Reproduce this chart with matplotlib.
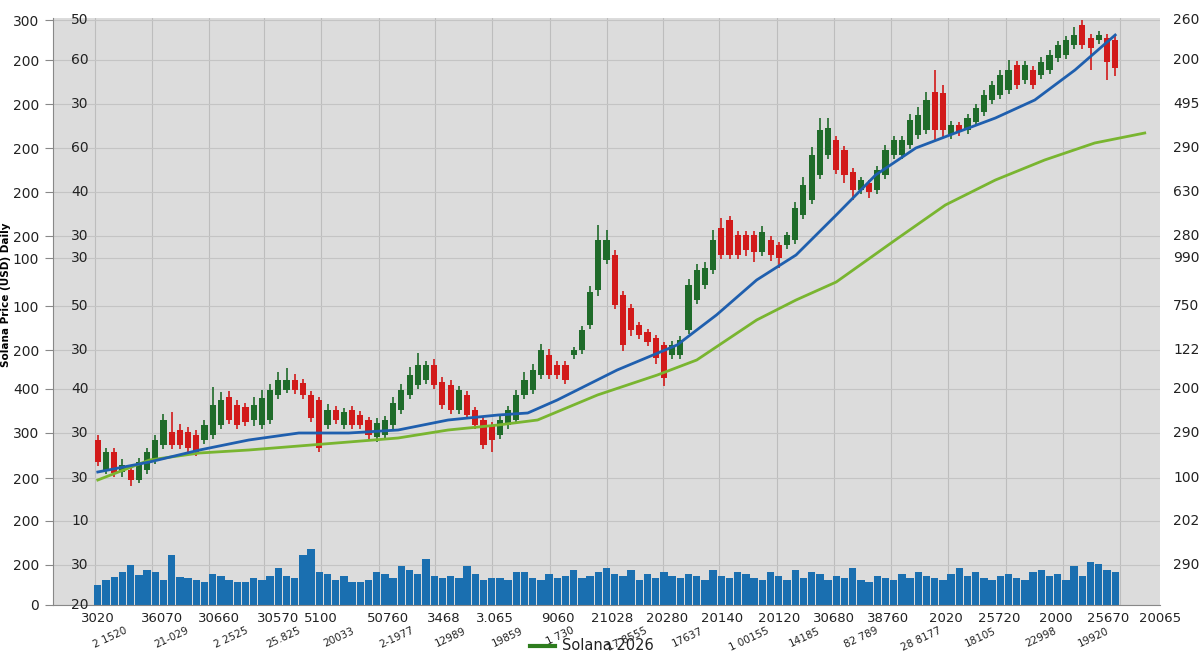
import matplotlib
matplotlib.use("Agg")
import matplotlib.pyplot as plt
import numpy as np

opens = [160,130,148,128,130,120,130,140,155,168,170,168,165,160,165,175,203,195,193,180,175,180,205,210,220,217,205,200,175,190,
         175,190,185,180,163,165,175,190,205,215,220,235,218,215,190,205,190,180,175,165,175,180,205,210,225,245,235,235,245,250,
         275,310,340,345,305,292,275,268,262,255,245,245,270,300,315,330,372,380,365,365,365,348,360,355,355,360,385,400,425,445,
         460,450,428,410,417,410,425,445,445,455,465,470,508,507,465,475,470,478,488,500,505,510,535,520,530,525,530,542,545,555,
         575,562,560,562,560]
closes = [138,148,127,135,120,138,148,160,180,155,155,152,148,175,195,200,180,175,178,195,202,210,220,220,210,205,182,152,190,180,
          188,175,175,165,177,180,197,210,225,235,235,215,195,190,210,185,175,155,160,180,190,205,220,230,250,225,225,220,250,270,
          308,360,360,295,255,270,265,258,242,222,255,260,315,330,332,360,345,345,345,350,348,368,345,342,365,392,415,445,470,472,
          430,425,410,420,408,430,450,460,460,480,485,500,470,470,475,468,482,492,505,515,525,530,515,535,515,538,545,555,560,565,
          555,552,565,538,532]
wick_up = [5,4,4,6,3,4,4,5,6,20,6,5,5,5,18,8,6,5,4,8,8,6,8,12,6,4,4,3,6,4,4,4,4,3,5,4,6,6,8,12,4,6,5,5,4,4,3,3,3,4,4,5,8,6,6,6,4,4,3,4,
           6,15,10,5,4,4,3,3,3,3,4,4,6,6,6,10,10,4,4,4,4,6,4,3,3,6,8,8,12,10,4,4,4,3,3,4,5,4,4,6,8,8,22,8,4,3,4,4,5,4,5,10,4,4,4,5,5,4,4,8,
           5,4,4,4,4]
wick_dn = [4,4,4,5,6,3,4,4,4,4,4,6,4,4,4,4,4,4,4,6,4,4,4,3,4,4,4,4,4,4,4,4,4,4,5,4,4,4,4,4,4,4,4,4,4,4,4,4,12,4,4,4,4,4,4,4,4,4,4,4,
           4,6,4,4,6,6,4,4,6,8,4,4,4,4,4,4,4,4,4,6,10,4,6,10,4,4,4,4,4,4,4,8,10,4,6,4,4,4,4,4,4,4,10,8,4,4,4,4,4,4,4,4,4,4,4,4,4,4,4,4,
           4,22,4,18,8]
volume = [20,25,28,33,40,30,35,33,25,50,28,27,25,23,31,29,25,23,23,27,25,29,37,29,27,50,56,33,31,25,
          29,23,23,25,33,31,27,39,35,31,46,29,27,29,27,39,31,25,27,27,25,33,33,27,25,31,27,29,35,27,
          29,33,37,31,29,35,25,31,27,33,29,27,31,29,25,35,29,27,33,31,27,25,33,29,25,35,27,33,31,25,
          29,27,37,25,23,29,27,25,31,27,33,29,27,25,31,37,29,33,27,25,29,31,27,25,33,35,29,31,25,39,
          29,43,41,35,33]

blue_x = [0,6.3,12.4,18.4,24.5,30.6,36.6,42.7,48.8,52.4,56,63.3,70.6,75.4,80.3,85.1,90,94.8,99.7,104.5,109.4,114.2,119.1,124]
blue_y = [128,138,150,160,167,167,170,180,185,187,200,230,255,285,320,345,385,425,452,467,482,500,530,565]
green_x = [0,6.3,12.4,18.4,24.5,30.6,36.6,42.7,48.8,53.6,60.9,68.2,73,80.3,85.1,90,97.2,103.3,109.4,115.4,121.5,127.6]
green_y = [120,140,147,150,154,158,162,170,175,180,205,225,240,280,300,318,360,395,420,440,457,467]

left_labels = ["300","200","200","200","200","200","100","100","200","400","300","200","200","200","0"]
inner_labels = ["50","60","30","60","40","30","30","50","30","40","30","30","10","30","20"]
right_labels = ["260","200","495","290","630","280","990","750","122","200","290","100","202","290",""]
label_pos = [580,540,496,452,408,364,342,294,250,211,167,122,79,35,-5]

xlab1 = ["3020","36070","30660","30570","5100","50760","3468","3.065","9060","21028","20280",
         "20140","20120","30680","38760","2020","25720","2000","25670","20065"]
xlab1_px = [98,163,220,279,322,390,446,497,560,615,670,725,782,838,892,950,1003,1060,1113,1165]
xlab2 = ["2 1520","21-029","2 2525","25.825","20033","2-1977","12989","19859","1 730","17 8555",
         "17637","1 00155","14185","82 789","28 8177","18105","22998","19920"]
xlab2_px = [110,172,232,285,340,398,452,510,562,630,690,752,808,865,925,985,1045,1098]

step = 1022/124
def px2i(p): return (p-98)/step

fig = plt.figure(figsize=(12,6.54), dpi=100)
ax = fig.add_axes([53/1200, 49/654, 1107/1200, 587/654])
ax.set_facecolor("#dcdcdc")
ax.set_xlim(px2i(53), px2i(1160))
ax.set_ylim(-5, 582)

for p in [95,152,210,265,322,380,437,494,552,609,666,722,780,838,895,952,1010,1068,1125]:
    ax.axvline(px2i(p), color="#bdbdbd", lw=0.8, zorder=0)
for v in label_pos:
    ax.axhline(v, color="#c4c4c4", lw=0.8, zorder=0)

ax.bar(np.arange(len(volume)), volume, bottom=-5, width=0.9, color="#1a6fb0", zorder=2)

for i,(o,c) in enumerate(zip(opens,closes)):
    col = "#1f6b2a" if c >= o else "#d21a1a"
    hi = max(o,c)+wick_up[i]; lo = min(o,c)-wick_dn[i]
    ax.vlines(i, lo, hi, color=col, lw=1.2, zorder=3)
    ax.bar(i, abs(c-o) if abs(c-o)>0 else 2, bottom=min(o,c), width=0.75, color=col, zorder=4)

ax.plot(green_x, green_y, color="#79b530", lw=2, zorder=5)
ax.plot(blue_x, blue_y, color="#1f5fae", lw=2, zorder=6)

ax.set_yticks(label_pos)
ax.set_yticklabels(left_labels, fontsize=10, color="#222")
ax.tick_params(axis="y", length=6, color="#888", pad=4)
for v,t in zip(label_pos, inner_labels):
    ax.text(px2i(80), v, t, fontsize=10, color="#222", ha="center", va="center")
for v,t in zip(label_pos, right_labels):
    ax.text(1.012, (v+5)/587, t, transform=ax.transAxes, fontsize=10, color="#222", ha="left", va="center")

ax.set_xticks([px2i(p) for p in xlab1_px])
ax.set_xticklabels(xlab1, fontsize=9.5, color="#222")
ax.tick_params(axis="x", length=0, pad=5)
for p,t in zip(xlab2_px, xlab2):
    ax.text(px2i(p), -0.035, t, transform=ax.get_xaxis_transform(), fontsize=7.5, rotation=25,
            ha="center", va="top", color="#222")
for s in ["top","right"]:
    ax.spines[s].set_visible(False)
ax.spines["bottom"].set_color("#888")
ax.spines["left"].set_color("#888")

fig.text(0.001, 0.55, "Solana Price (USD) Daily", rotation=90, fontsize=7.5, fontweight="bold",
         va="center", ha="left")
fig.lines.append(plt.Line2D([530/1200, 555/1200], [8/654, 8/654], color="#2e7d1e", lw=3, transform=fig.transFigure))
fig.text(562/1200, 8/654, "Solana 2026", fontsize=10.5, va="center", color="#222")

fig.savefig("out.png", dpi=100)
